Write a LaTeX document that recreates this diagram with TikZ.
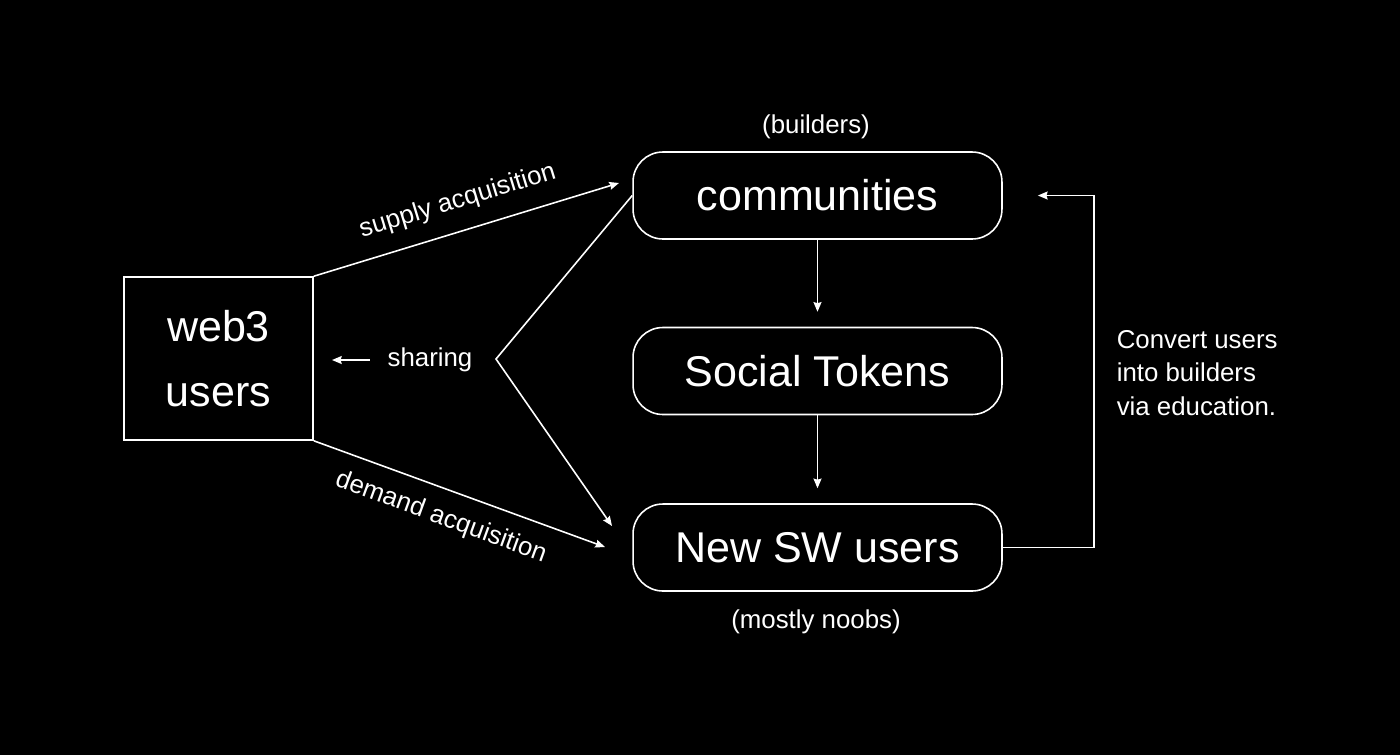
\documentclass[tikz,border=0pt]{standalone}
\usepackage{fontspec}
\setmainfont{Liberation Sans}
\usetikzlibrary{arrows.meta,positioning}

\begin{document}
\begin{tikzpicture}[x=0.02cm,y=-0.02cm,line width=0.9pt,white,
  arr/.style={-{Stealth[length=5.5pt,width=4.5pt,inset=0.6pt]}},
  bigtext/.style={font=\fontsize{24.5}{37.4}\selectfont},
  smalltext/.style={font=\fontsize{14.7}{19}\selectfont},
  roundbox/.style={draw,rounded corners=17pt,minimum width=7.38cm,minimum height=1.74cm,bigtext}]

% Background
\fill[black] (0,0) rectangle (1400,755);

% Boxes
\node[draw,minimum width=3.78cm,minimum height=3.26cm,align=center,bigtext] (web3) at (218.5,358.5) {web3\\users};
\node[roundbox] (comm) at (817.5,195.5) {communities};
\node[roundbox] (tokens) at (817.5,371) {Social Tokens};
\node[roundbox] (newsw) at (817.5,547.5) {New SW users};

% Side labels
\node[smalltext] (builders) at (816,127) {(builders)};
\node[smalltext] (noobs) at (816,622) {(mostly noobs)};
\node[smalltext,anchor=west,align=left,inner sep=0] (convert) at (1116,373) {Convert users\\into builders\\via education.};

% Free ends
\coordinate (supplytip) at (619,183);
\coordinate (demandtip) at (605,547);
\coordinate (shareapex) at (496,359);
\coordinate (sharetip) at (612,526);
\coordinate (backtip) at (332,360);

% Vertical flow
\draw[arr,shorten >=8.5pt] (comm.south) -- (tokens.north);
\draw[arr,shorten >=8.5pt] (tokens.south) -- (newsw.north);

% Acquisition arrows
\draw[arr] (web3.north east) -- node[midway,sloped,above=9.5pt,inner sep=0,smalltext] (supply) {supply acquisition} (supplytip);
\draw[arr] (web3.south east) -- node[pos=0.47,sloped,below=9pt,inner sep=0,smalltext] (demand) {demand acquisition} (demandtip);

% Sharing
\draw[arr] (comm.west) -- (shareapex) -- (sharetip);
\node[smalltext,inner sep=0] (share) at (430,360) {sharing};
\draw[arr,shorten <=9.6pt] (share.west) -- (backtip);

% Feedback loop
\draw[arr,shorten >=20pt] (newsw.east) -- ++(91,0) |- (comm.east);

\end{tikzpicture}
\end{document}
